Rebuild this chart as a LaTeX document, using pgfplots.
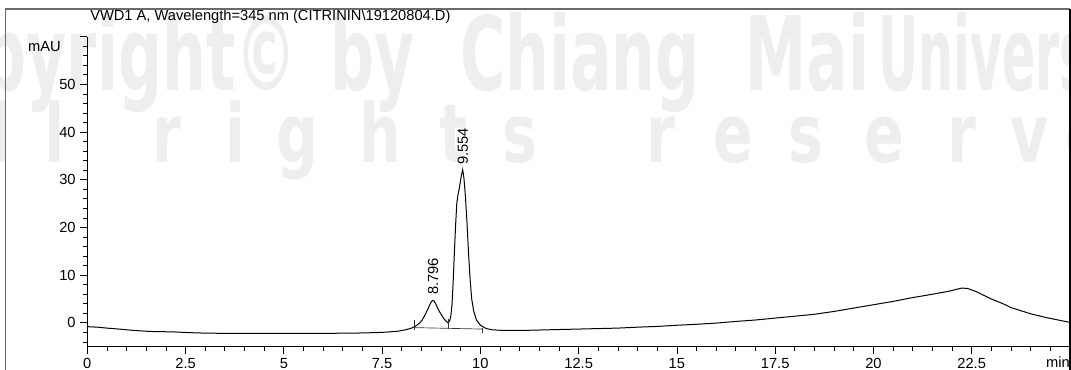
\documentclass[border=0pt]{standalone}
\usepackage{pgfplots}
\pgfplotsset{compat=1.18}
\usepackage{fontspec}
\setmainfont{Liberation Sans}
\newfontfamily\wmfont{DejaVu Sans}
\definecolor{wm}{HTML}{EEEEEE}
\definecolor{framegray}{HTML}{6A6A6A}

\pgfplotstableread{
t y
0 -0.8
0.25 -0.9
0.5 -1.1
0.8 -1.3
1.2 -1.6
1.6 -1.8
1.9 -1.85
2.2 -1.9
2.6 -2.05
3.0 -2.15
3.5 -2.2
4.0 -2.2
5.0 -2.2
6.0 -2.2
6.8 -2.15
7.3 -2.05
7.6 -1.95
7.9 -1.75
8.1 -1.45
8.25 -1.1
8.35 -0.7
8.45 -0.1
8.52 0.6
8.6 1.8
8.67 3.0
8.73 4.1
8.78 4.7
8.82 4.6
8.87 3.9
8.93 2.8
9.0 1.8
9.07 0.9
9.13 0.3
9.18 0.0
9.22 0.4
9.25 1.5
9.28 4
9.31 9
9.34 15
9.37 20.5
9.40 25
9.43 26.8
9.47 28.5
9.51 30.6
9.55 32.1
9.58 30.5
9.62 26.5
9.66 21
9.70 14.5
9.74 9
9.78 5
9.83 2.5
9.90 0.6
10.0 -0.5
10.15 -1.2
10.3 -1.45
10.6 -1.6
11.0 -1.6
11.5 -1.5
12.0 -1.4
12.5 -1.3
13.0 -1.2
13.5 -1.1
14.0 -0.9
14.5 -0.75
15.0 -0.5
15.5 -0.3
16.0 -0.05
16.5 0.3
17.0 0.6
17.5 1.0
18.0 1.4
18.5 1.8
19.0 2.4
19.5 3.1
20.0 3.8
20.5 4.5
21.0 5.3
21.5 6.0
21.9 6.6
22.1 7.0
22.25 7.3
22.4 7.2
22.6 6.6
22.8 5.8
23.0 5.0
23.3 4.0
23.5 3.2
24.0 1.9
24.4 1.1
24.7 0.6
25.0 0.1
}\signal

\pgfplotstableread{
t y
8.33 -1.0
10.05 -1.3
}\baseline

\begin{document}
\begin{tikzpicture}
% pixel coordinate frame: 1px = 0.75pt, origin of axis at pixel (87.3,346.7)
\begin{scope}[xshift=-65.475pt, yshift=260.025pt, x=0.75pt, y=-0.75pt]
  % watermark
  \begin{scope}[wm]
    \tikzset{wmone/.style={anchor=base west, inner sep=0, xscale=0.6, font=\wmfont\bfseries\fontsize{77}{80}\selectfont}}
    \node[wmone] at (-105,90) {Copyright©};
    \node[wmone] at (330,90) {by};
    \node[wmone] at (460,90) {Chiang};
    \node[wmone] at (745,90) {Mai};
    \node[wmone, xscale=0.8] at (878,90) {University};
    \foreach \c/\xx in {A/-45,l/2,l/55,r/167,i/236,g/297,h/380,t/453,s/520,r/661,e/733,s/806,e/884,r/962,v/1030,e/1085}
      \node[anchor=base, inner sep=0, xscale=0.72, font=\wmfont\bfseries\fontsize{61}{64}\selectfont] at (\xx,162) {\c};
  \end{scope}
\end{scope}

\begin{axis}[
  at={(0pt,0pt)}, anchor=south west,
  scale only axis, width=737.0pt, height=232.5pt,
  xmin=0, xmax=25, ymin=-5, ymax=60,
  axis x line*=bottom, axis y line*=left,
  axis line style={black, line width=0.6pt},
  xtick={0,2.5,...,25},
  xticklabels={0,2.5,5,7.5,10,12.5,15,17.5,20,22.5,{}},
  minor xtick={0,0.5,...,25},
  ytick={0,10,...,60},
  yticklabels={0,10,20,30,40,50,{}},
  minor ytick={-4,-2,...,58},
  tick align=outside,
  major tick length=5.25pt, minor tick length=3pt,
  tick style={black, line width=0.6pt},
  /pgf/number format/assume math mode=true,
  tick label style={font=\fontsize{11}{13}\selectfont},
  unbounded coords=jump,
]
\addplot[black, line width=0.75pt] table[x=t, y=y] {\signal};
\addplot[black!80, line width=0.5pt] table[x=t, y=y] {\baseline};
% integration event markers
\addplot[black!80, line width=0.5pt] coordinates {(8.33,0.55) (8.33,-1.5) (nan,nan) (9.18,0.9) (9.18,-1.2) (nan,nan) (10.05,-1.0) (10.05,-2.1)};
\node[rotate=90, anchor=west, inner sep=0, font=\fontsize{11}{13}\selectfont] at (axis cs:8.796,5.8) {8.796};
\node[rotate=90, anchor=west, inner sep=0, font=\fontsize{11}{13}\selectfont] at (axis cs:9.554,33.1) {9.554};
\end{axis}

\begin{scope}[xshift=-65.475pt, yshift=260.025pt, x=0.75pt, y=-0.75pt]
  \node[anchor=base west, inner sep=0, font=\fontsize{11}{13}\selectfont] at (90,20.7) {VWD1 A, Wavelength=345 nm (CITRININ\textbackslash 19120804.D)};
  \node[anchor=base, inner sep=0, font=\fontsize{11}{13}\selectfont] at (44.5,51.7) {mAU};
  \node[anchor=base, inner sep=0, font=\fontsize{11}{13}\selectfont] at (1058,367.6) {min};
  \draw[framegray, line width=0.9pt] (5.6,400) -- (5.6,9) -- (1069.5,9);
  \draw[black, line width=1.4pt] (1069.8,9) -- (1069.8,400);
  \pgfresetboundingbox
  \path[use as bounding box] (0,0) rectangle (1071,369);
\end{scope}
\end{tikzpicture}
\end{document}
